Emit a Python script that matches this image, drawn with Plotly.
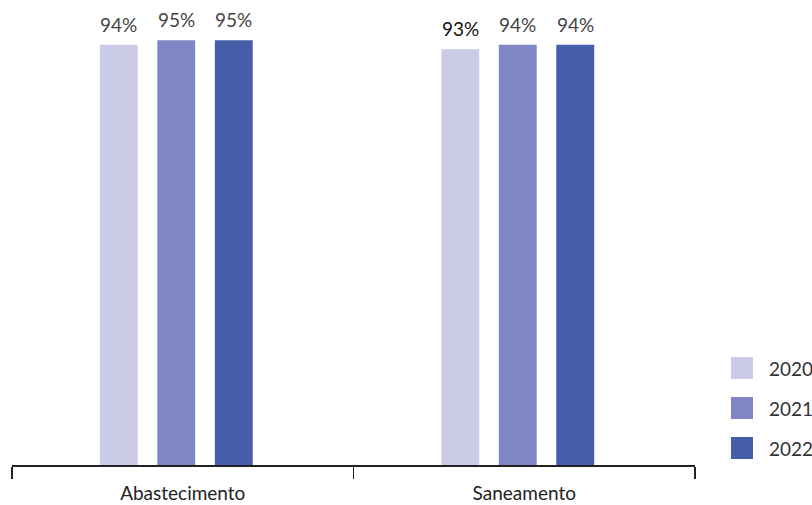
import plotly.graph_objects as go

categories = ["Abastecimento", "Saneamento"]
years = ["2020", "2021", "2022"]
values_2020 = [94, 93]
values_2021 = [95, 94]
values_2022 = [95, 94]
series = [values_2020, values_2021, values_2022]
colors = ["#cbcbe7", "#7e87c4", "#465da9"]

FONT = "Lato, 'Open Sans', sans-serif"

# layout geometry (data units on a categorical axis of width 1 per category)
slot = 0.1684
bar_w = 0.111
shift = -0.019

fig = go.Figure()
for j, (yr, vals, col) in enumerate(zip(years, series, colors)):
    off = shift + (j - 1) * slot - bar_w / 2
    fig.add_trace(go.Bar(
        x=categories, y=vals, name=yr,
        marker=dict(color=col, line=dict(width=0)),
        width=bar_w, offset=off, showlegend=False,
        hoverinfo="skip",
    ))
    for i, v in enumerate(vals):
        fig.add_annotation(
            x=i + shift + (j - 1) * slot, y=v, xref="x", yref="y",
            text=f"{v}%", showarrow=False, yanchor="bottom", yshift=7,
            font=dict(family=FONT, size=19,
                      color="#111111" if (yr == "2020" and i == 1) else "#444444"),
        )

# custom legend (large square swatches)
for j, (yr, col) in enumerate(zip(years, colors)):
    ytop = 357 + 40 * j
    fig.add_shape(type="rect", xref="paper", yref="paper",
                  x0=(731 - 12) / 683, x1=(753 - 12) / 683,
                  y0=(465 - (ytop + 22)) / 447, y1=(465 - ytop) / 447,
                  fillcolor=col, line=dict(width=0))
    fig.add_annotation(xref="paper", yref="paper",
                       x=(767 - 12) / 683, y=(465 - (ytop + 11)) / 447,
                       xanchor="left", yanchor="middle", showarrow=False,
                       text=yr, font=dict(family=FONT, size=19, color="#333333"))

fig.update_layout(
    width=812, height=505,
    margin=dict(l=12, r=117, t=18, b=40),
    plot_bgcolor="white", paper_bgcolor="white",
    barmode="overlay",
    font=dict(family=FONT, size=16, color="#222222"),
    xaxis=dict(
        type="category", range=[-0.5, 1.5], automargin=False,
        showline=True, linecolor="#222222", linewidth=1.5,
        ticks="outside", tickson="boundaries", ticklen=12,
        tickcolor="#222222", tickwidth=1.5,
        tickfont=dict(family=FONT, size=19, color="#222222"),
        ticklabelstandoff=11,
        showgrid=False, zeroline=False,
    ),
    yaxis=dict(range=[0, 100], visible=False, showgrid=False, zeroline=False,
               automargin=False),
)

fig.write_html("out.html", config={"displayModeBar": False, "staticPlot": True})

# remove the default browser page margin so the figure sits at the window's corner
with open("out.html", encoding="utf-8") as f:
    html = f.read()
html = html.replace("<head>", "<head><style>html,body{margin:0;padding:0;overflow:hidden}</style>", 1)
with open("out.html", "w", encoding="utf-8") as f:
    f.write(html)
